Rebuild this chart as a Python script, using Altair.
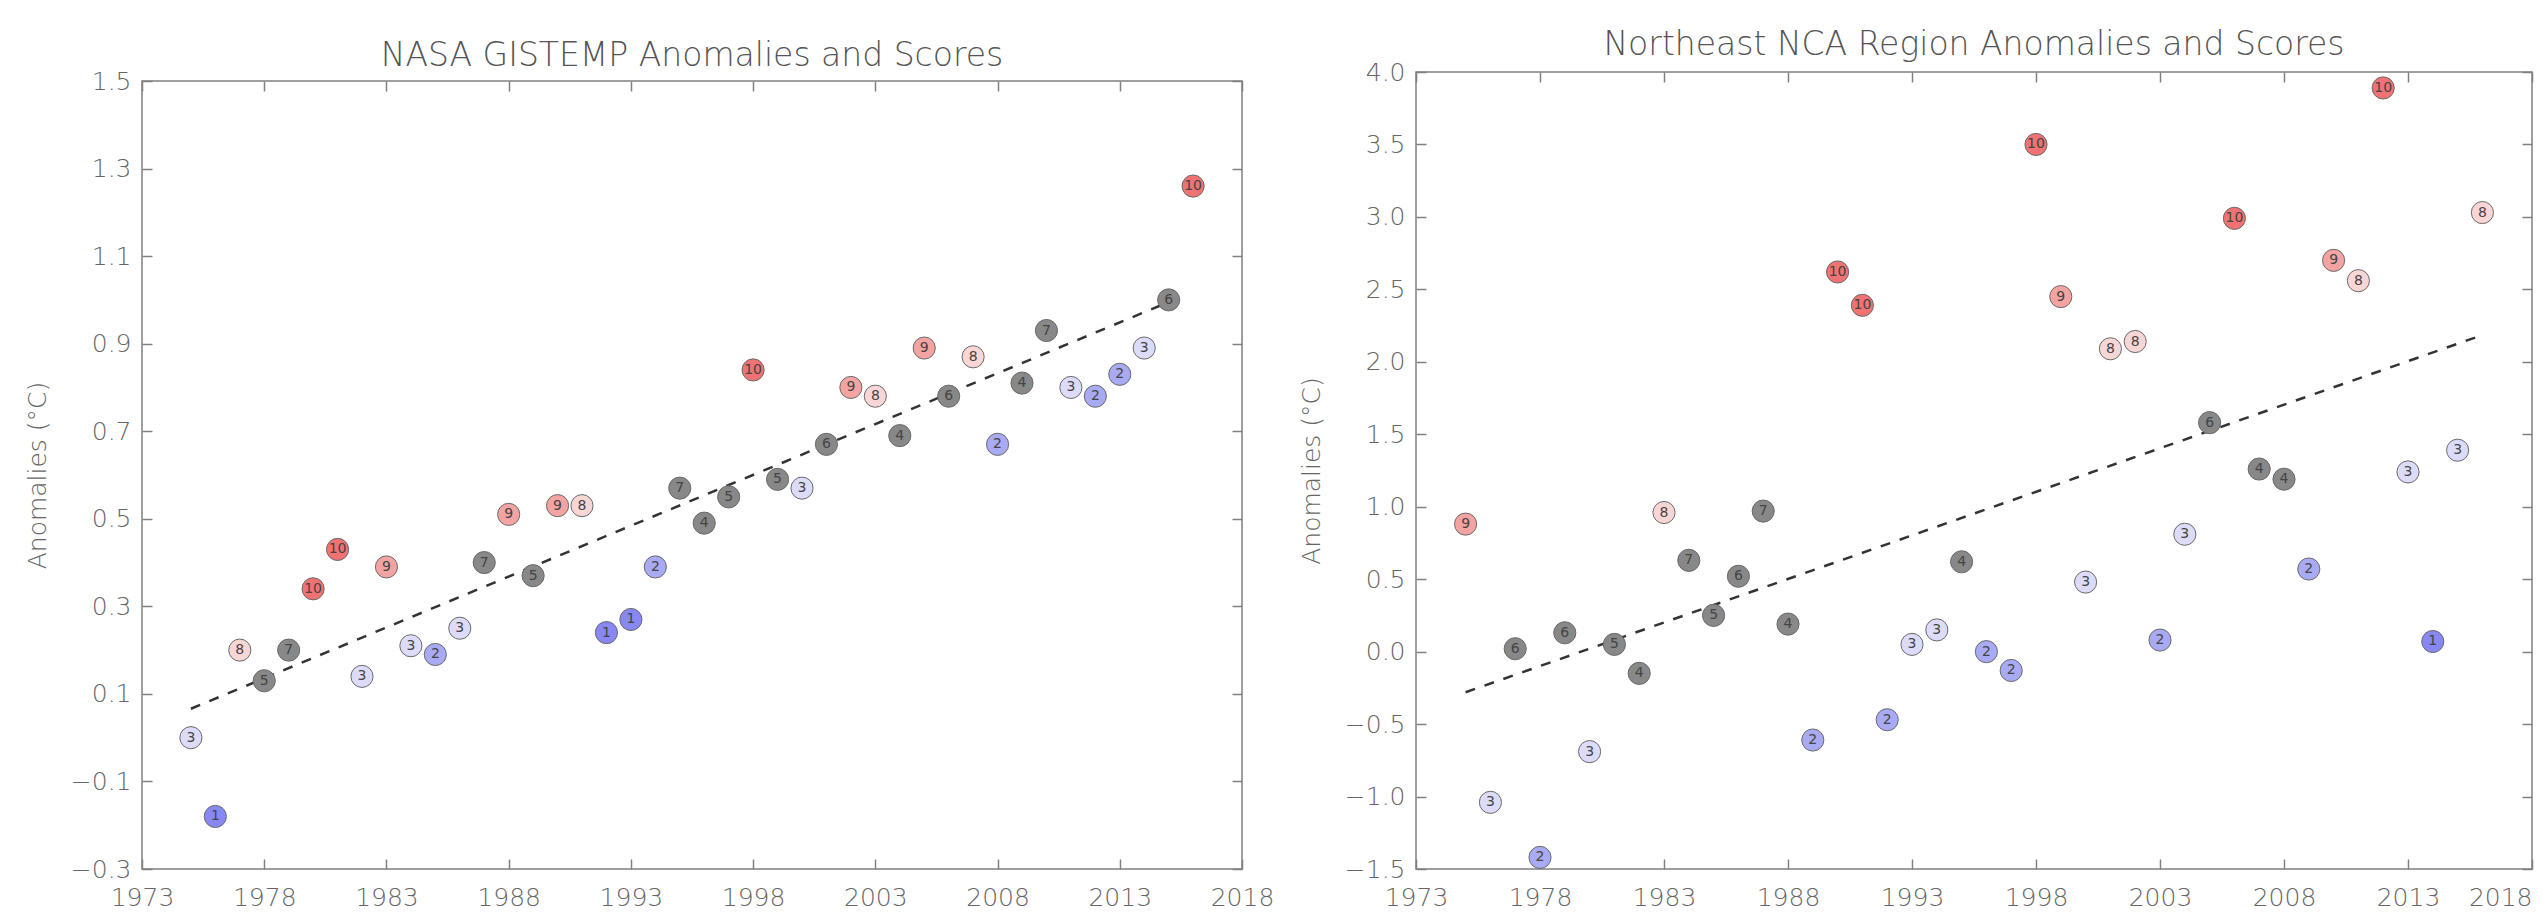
import altair as alt
import pandas as pd

# ---------------- data ----------------
years = list(range(1975, 2017))

gis_anom = [0.00, -0.18, 0.20, 0.13, 0.20, 0.34, 0.43, 0.14, 0.39, 0.21,
            0.19, 0.25, 0.40, 0.51, 0.37, 0.53, 0.53, 0.24, 0.27, 0.39,
            0.57, 0.49, 0.55, 0.84, 0.59, 0.57, 0.67, 0.80, 0.78, 0.69,
            0.89, 0.78, 0.87, 0.67, 0.81, 0.93, 0.80, 0.78, 0.83, 0.89,
            1.00, 1.26]
gis_score = [3, 1, 8, 5, 7, 10, 10, 3, 9, 3,
             2, 3, 7, 9, 5, 9, 8, 1, 1, 2,
             7, 4, 5, 10, 5, 3, 6, 9, 8, 4,
             9, 6, 8, 2, 4, 7, 3, 2, 2, 3,
             6, 10]

ne_anom = [0.88, -1.04, 0.02, -1.42, 0.13, -0.69, 0.05, -0.15, 0.96, 0.63,
           0.25, 0.52, 0.97, 0.19, -0.61, 2.62, 2.39, -0.47, 0.05, 0.15,
           0.62, 0.00, -0.13, 3.50, 2.45, 0.48, 2.09, 2.14, 0.08, 0.81,
           1.58, 2.99, 1.26, 1.19, 0.57, 2.70, 2.56, 3.89, 1.24, 0.07,
           1.39, 3.03]
ne_score = [9, 3, 6, 2, 6, 3, 5, 4, 8, 7,
            5, 6, 7, 4, 2, 10, 10, 2, 3, 3,
            4, 2, 2, 10, 9, 3, 8, 8, 2, 3,
            6, 10, 4, 4, 2, 9, 8, 10, 3, 1,
            3, 8]

gis_trend_years = [1975, 2015]
gis_trend_values = [0.066, 0.995]
ne_trend_years = [1975, 2016]
ne_trend_values = [-0.28, 2.185]

x_ticks = [1973, 1978, 1983, 1988, 1993, 1998, 2003, 2008, 2013, 2018]
gis_y_ticks = [-0.3, -0.1, 0.1, 0.3, 0.5, 0.7, 0.9, 1.1, 1.3, 1.5]
ne_y_ticks = [-1.5, -1.0, -0.5, 0.0, 0.5, 1.0, 1.5, 2.0, 2.5, 3.0, 3.5, 4.0]

score_levels = list(range(1, 11))
score_colors = ["#8788f2", "#a9aaf4", "#dcdcfa", "#888888", "#888888",
                "#888888", "#888888", "#f9d6d6", "#f4a3a3", "#f07272"]

FONT = "DejaVu Sans"
AXIS_GRAY = "#808080"
LABEL_GRAY = "#666666"
LIGHT = 200


def panel(anom, score, ty, tv, title, ydom, yticks, width, height,
          title_offset, last_label_inside):
    df = pd.DataFrame({"year": years, "anom": anom, "score": score})
    tdf = pd.DataFrame({"year": ty, "anom": tv})
    xs = alt.Scale(domain=[1973, 2018], nice=False, zero=False)
    ys = alt.Scale(domain=ydom, nice=False, zero=False)
    common = dict(domain=False, grid=False, ticks=True, tickSize=10, offset=-10,
                  tickColor=AXIS_GRAY, tickWidth=1.5, labelFont=FONT,
                  labelFontSize=25, labelColor=LABEL_GRAY, labelFontWeight=LIGHT,
                  minExtent=0, labelFlush=False)
    xb_extra = {}
    if last_label_inside:
        xb_extra["labelAlign"] = {"expr": "datum.value >= 2018 ? 'right' : 'center'"}
    x_bottom = alt.Axis(orient="bottom", values=x_ticks, format="d",
                        labelPadding=16, title=None, **xb_extra, **common)
    y_left = alt.Axis(orient="left", values=yticks, format=".1f",
                      labelPadding=11, title="Anomalies (°C)",
                      titleFont=FONT, titleFontSize=25, titleFontWeight=LIGHT,
                      titleColor=LABEL_GRAY, titlePadding=20, **common)
    x_top = alt.Axis(orient="top", values=x_ticks, labels=False, title=None,
                     labelPadding=0, **common)
    y_right = alt.Axis(orient="right", values=yticks, labels=False, title=None,
                       labelPadding=0, **common)

    line = alt.Chart(tdf).mark_line(color="#333333", strokeWidth=2.5,
                                    strokeDash=[10, 10]).encode(
        x=alt.X("year:Q", scale=xs, axis=None),
        y=alt.Y("anom:Q", scale=ys, axis=None),
    )
    dots = alt.Chart(df).mark_circle(size=490, opacity=1, stroke="#6a6a6a",
                                     strokeWidth=1).encode(
        x=alt.X("year:Q", scale=xs, axis=x_bottom),
        y=alt.Y("anom:Q", scale=ys, axis=y_left),
        color=alt.Color("score:O", scale=alt.Scale(domain=score_levels,
                                                   range=score_colors),
                        legend=None),
    )
    labels = alt.Chart(df).mark_text(font=FONT, fontSize=14, color="#444444",
                                     align="center", baseline="middle").encode(
        x=alt.X("year:Q", scale=xs, axis=x_top),
        y=alt.Y("anom:Q", scale=ys, axis=y_right),
        text=alt.Text("score:N"),
    )
    return alt.layer(line, dots, labels).resolve_axis(
        x="independent", y="independent"
    ).properties(
        width=width, height=height,
        title=alt.TitleParams(title, font=FONT, fontSize=33, fontWeight=LIGHT,
                              color="#555555", offset=title_offset,
                              anchor="middle", frame="group"),
    )


left = panel(gis_anom, gis_score, gis_trend_years, gis_trend_values,
             "NASA GISTEMP Anomalies and Scores", [-0.3, 1.5], gis_y_ticks,
             1100, 788, -4, False)
right = panel(ne_anom, ne_score, ne_trend_years, ne_trend_values,
              "Northeast NCA Region Anomalies and Scores", [-1.5, 4.0], ne_y_ticks,
              1116, 797, -2, True)

spacer = alt.Chart(pd.DataFrame({"v": [0]})).mark_point(opacity=0, size=1).encode(
    x=alt.value(0), y=alt.value(0)
).properties(width=1, height=8.5, view=alt.ViewBackground(stroke="transparent"))

chart = alt.hconcat(
    alt.vconcat(spacer, left, spacing=0, bounds="flush"),
    right,
    spacing=23,
).properties(
    padding={"left": 16, "top": 20, "right": 0, "bottom": 0},
    background="white",
).configure_view(stroke=AXIS_GRAY, strokeWidth=1.5)

chart.save("out.html", embed_options={"renderer": "svg", "actions": False})
